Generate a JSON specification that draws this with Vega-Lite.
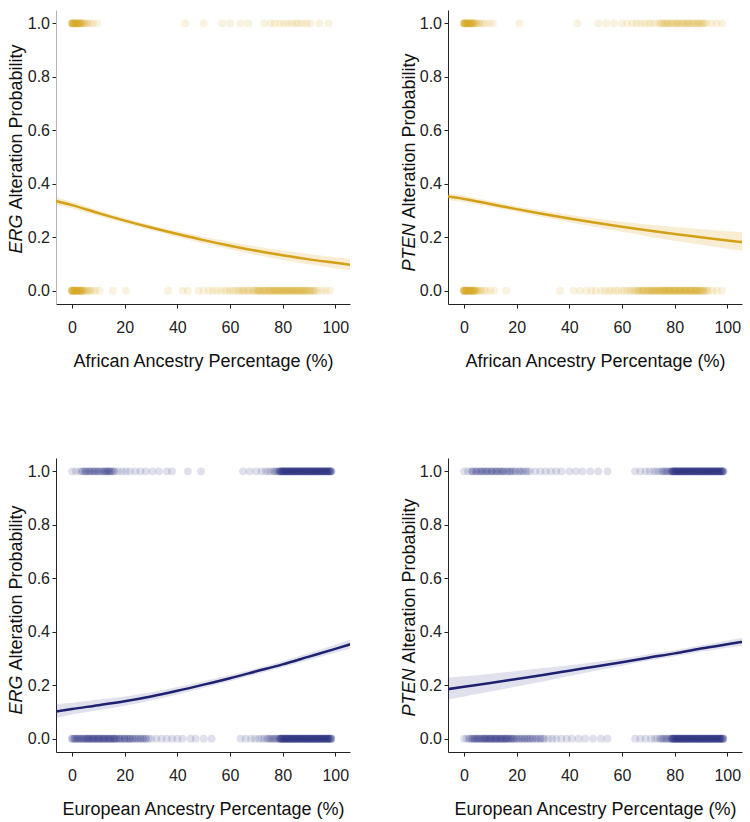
{
"$schema": "https://vega.github.io/schema/vega-lite/v6.json",
"padding": {"left": 6, "top": 10, "right": 5, "bottom": 5},
"columns": 2,
"spacing": {"row": 154, "column": 98},
"bounds": "flush",
"datasets": {
"a_erg": [
{"x":0,"y":1},{"x":0,"y":1},{"x":0,"y":1},{"x":0,"y":1},{"x":0,"y":1},{"x":0.25,"y":1},{"x":0.5,"y":1},{"x":0.5,"y":1},{"x":0.75,"y":1},{"x":1,"y":1},{"x":1,"y":1},{"x":1.25,"y":1},{"x":1.5,"y":1},{"x":1.5,"y":1},{"x":1.75,"y":1},{"x":2,"y":1},{"x":2,"y":1},{"x":2.25,"y":1},{"x":2.5,"y":1},{"x":2.5,"y":1},{"x":2.75,"y":1},{"x":3,"y":1},{"x":3,"y":1},{"x":3.25,"y":1},{"x":3.5,"y":1},{"x":3.75,"y":1},{"x":4,"y":1},{"x":4.5,"y":1},{"x":5,"y":1},{"x":5.5,"y":1},{"x":6,"y":1},{"x":7,"y":1},{"x":8,"y":1},{"x":9.5,"y":1},
{"x":43,"y":1},{"x":50,"y":1},{"x":57,"y":1},{"x":60,"y":1},{"x":64,"y":1},{"x":67,"y":1},{"x":73,"y":1},{"x":75.5,"y":1},{"x":77,"y":1},{"x":79,"y":1},{"x":80.5,"y":1},{"x":82,"y":1},{"x":83.5,"y":1},{"x":85,"y":1},{"x":86,"y":1},{"x":87.5,"y":1},{"x":89,"y":1},{"x":90.5,"y":1},{"x":94,"y":1},{"x":97.5,"y":1},
{"x":0,"y":0},{"x":0,"y":0},{"x":0,"y":0},{"x":0,"y":0},{"x":0,"y":0},{"x":0,"y":0},{"x":0.25,"y":0},{"x":0.5,"y":0},{"x":0.5,"y":0},{"x":0.75,"y":0},{"x":1,"y":0},{"x":1,"y":0},{"x":1.25,"y":0},{"x":1.5,"y":0},{"x":1.5,"y":0},{"x":1.75,"y":0},{"x":2,"y":0},{"x":2,"y":0},{"x":2.25,"y":0},{"x":2.5,"y":0},{"x":2.5,"y":0},{"x":2.75,"y":0},{"x":3,"y":0},{"x":3,"y":0},{"x":3.25,"y":0},{"x":3.5,"y":0},{"x":3.5,"y":0},{"x":3.75,"y":0},{"x":4,"y":0},{"x":4,"y":0},{"x":4.5,"y":0},{"x":5,"y":0},{"x":5.5,"y":0},{"x":6,"y":0},{"x":6.5,"y":0},{"x":7,"y":0},{"x":8,"y":0},{"x":9,"y":0},{"x":10.5,"y":0},{"x":15.5,"y":0},{"x":20.5,"y":0},
{"x":36.5,"y":0},{"x":42,"y":0},{"x":44,"y":0},{"x":48,"y":0},{"x":50,"y":0},{"x":52,"y":0},{"x":53.5,"y":0},{"x":55,"y":0},{"x":56.5,"y":0},{"x":58,"y":0},{"x":59,"y":0},{"x":60,"y":0},{"x":61,"y":0},{"x":62,"y":0},{"x":63,"y":0},{"x":63.5,"y":0},{"x":64.5,"y":0},{"x":65,"y":0},{"x":65.5,"y":0},{"x":66.5,"y":0},{"x":67,"y":0},{"x":67.5,"y":0},{"x":68.5,"y":0},{"x":69,"y":0},{"x":69.5,"y":0},{"x":70.5,"y":0},{"x":71,"y":0},{"x":71.5,"y":0},{"x":72.5,"y":0},{"x":73,"y":0},{"x":73.5,"y":0},{"x":74.5,"y":0},{"x":75,"y":0},{"x":75.5,"y":0},{"x":76,"y":0},{"x":76.5,"y":0},{"x":77,"y":0},{"x":77.5,"y":0},{"x":78,"y":0},{"x":78.5,"y":0},{"x":79,"y":0},{"x":79.5,"y":0},{"x":80,"y":0},{"x":80.5,"y":0},{"x":81,"y":0},{"x":81.5,"y":0},{"x":82,"y":0},{"x":82.5,"y":0},{"x":83,"y":0},{"x":83.5,"y":0},{"x":84,"y":0},{"x":84.5,"y":0},{"x":85,"y":0},{"x":85.5,"y":0},{"x":86,"y":0},{"x":86.5,"y":0},{"x":87,"y":0},{"x":87.5,"y":0},{"x":88,"y":0},{"x":88.5,"y":0},{"x":89,"y":0},{"x":90,"y":0},{"x":90.5,"y":0},{"x":91.5,"y":0},{"x":92.5,"y":0},{"x":93.5,"y":0},{"x":95,"y":0},{"x":96.5,"y":0},{"x":98,"y":0},
{"x":70,"y":0},{"x":71,"y":0},{"x":72,"y":0},{"x":73,"y":0},{"x":74,"y":0},{"x":75,"y":0},{"x":76,"y":0},{"x":77,"y":0},{"x":78,"y":0},{"x":79,"y":0},{"x":80,"y":0},{"x":81,"y":0},{"x":82,"y":0},{"x":83,"y":0},{"x":84,"y":0},{"x":85,"y":0},{"x":86,"y":0},{"x":87,"y":0},{"x":88,"y":0},{"x":89,"y":0},{"x":90,"y":0},{"x":91,"y":0},{"x":92,"y":0}
],
"a_pten": [
{"x":0,"y":1},{"x":0,"y":1},{"x":0,"y":1},{"x":0,"y":1},{"x":0,"y":1},{"x":0.25,"y":1},{"x":0.5,"y":1},{"x":0.5,"y":1},{"x":0.75,"y":1},{"x":1,"y":1},{"x":1,"y":1},{"x":1.25,"y":1},{"x":1.5,"y":1},{"x":1.5,"y":1},{"x":1.75,"y":1},{"x":2,"y":1},{"x":2,"y":1},{"x":2.25,"y":1},{"x":2.5,"y":1},{"x":2.5,"y":1},{"x":2.75,"y":1},{"x":3,"y":1},{"x":3,"y":1},{"x":3.25,"y":1},{"x":3.5,"y":1},{"x":3.75,"y":1},{"x":4,"y":1},{"x":4.5,"y":1},{"x":5,"y":1},{"x":5.5,"y":1},{"x":6,"y":1},{"x":7,"y":1},{"x":8,"y":1},{"x":9.5,"y":1},{"x":11,"y":1},{"x":21,"y":1},{"x":43,"y":1},
{"x":51,"y":1},{"x":54,"y":1},{"x":57,"y":1},{"x":60,"y":1},{"x":62,"y":1},{"x":64,"y":1},{"x":65.5,"y":1},{"x":67,"y":1},{"x":68.5,"y":1},{"x":70,"y":1},{"x":71,"y":1},{"x":72.5,"y":1},{"x":74,"y":1},{"x":75,"y":1},{"x":76,"y":1},{"x":76.5,"y":1},{"x":77.5,"y":1},{"x":78,"y":1},{"x":79,"y":1},{"x":80,"y":1},{"x":80.5,"y":1},{"x":81.5,"y":1},{"x":82,"y":1},{"x":83,"y":1},{"x":84,"y":1},{"x":84.5,"y":1},{"x":85.5,"y":1},{"x":86,"y":1},{"x":87,"y":1},{"x":88,"y":1},{"x":88.5,"y":1},{"x":89.5,"y":1},{"x":90,"y":1},{"x":91,"y":1},{"x":92,"y":1},{"x":94,"y":1},{"x":96,"y":1},{"x":98,"y":1},
{"x":75,"y":1},{"x":77,"y":1},{"x":79,"y":1},{"x":81,"y":1},{"x":83,"y":1},{"x":85,"y":1},{"x":87,"y":1},{"x":89,"y":1},{"x":91,"y":1},
{"x":0,"y":0},{"x":0,"y":0},{"x":0,"y":0},{"x":0,"y":0},{"x":0,"y":0},{"x":0,"y":0},{"x":0.25,"y":0},{"x":0.5,"y":0},{"x":0.5,"y":0},{"x":0.75,"y":0},{"x":1,"y":0},{"x":1,"y":0},{"x":1.25,"y":0},{"x":1.5,"y":0},{"x":1.5,"y":0},{"x":1.75,"y":0},{"x":2,"y":0},{"x":2,"y":0},{"x":2.25,"y":0},{"x":2.5,"y":0},{"x":2.5,"y":0},{"x":2.75,"y":0},{"x":3,"y":0},{"x":3,"y":0},{"x":3.25,"y":0},{"x":3.5,"y":0},{"x":3.5,"y":0},{"x":3.75,"y":0},{"x":4,"y":0},{"x":4,"y":0},{"x":4.25,"y":0},{"x":4.5,"y":0},{"x":5,"y":0},{"x":5.5,"y":0},{"x":6,"y":0},{"x":6.5,"y":0},{"x":7.5,"y":0},{"x":8.5,"y":0},{"x":10,"y":0},{"x":11.5,"y":0},{"x":16,"y":0},
{"x":36.5,"y":0},{"x":41.5,"y":0},{"x":44,"y":0},{"x":46.5,"y":0},{"x":48.5,"y":0},{"x":50,"y":0},{"x":52,"y":0},{"x":53.5,"y":0},{"x":55,"y":0},{"x":56,"y":0},{"x":57.5,"y":0},{"x":58.5,"y":0},{"x":60,"y":0},{"x":61,"y":0},{"x":62,"y":0},{"x":63,"y":0},{"x":63.5,"y":0},{"x":64.5,"y":0},{"x":65,"y":0},{"x":66,"y":0},{"x":66.5,"y":0},{"x":67.5,"y":0},{"x":68,"y":0},{"x":68.5,"y":0},{"x":69.5,"y":0},{"x":70,"y":0},{"x":70.5,"y":0},{"x":71,"y":0},{"x":71.5,"y":0},{"x":72,"y":0},{"x":72.5,"y":0},{"x":73,"y":0},{"x":73.5,"y":0},{"x":74,"y":0},{"x":74.5,"y":0},{"x":75,"y":0},{"x":75.5,"y":0},{"x":76,"y":0},{"x":76,"y":0},{"x":76.5,"y":0},{"x":77,"y":0},{"x":77.5,"y":0},{"x":78,"y":0},{"x":78,"y":0},{"x":78.5,"y":0},{"x":79,"y":0},{"x":79.5,"y":0},{"x":80,"y":0},{"x":80,"y":0},{"x":80.5,"y":0},{"x":81,"y":0},{"x":81.5,"y":0},{"x":82,"y":0},{"x":82,"y":0},{"x":82.5,"y":0},{"x":83,"y":0},{"x":83.5,"y":0},{"x":84,"y":0},{"x":84,"y":0},{"x":84.5,"y":0},{"x":85,"y":0},{"x":85.5,"y":0},{"x":86,"y":0},{"x":86,"y":0},{"x":86.5,"y":0},{"x":87,"y":0},{"x":87.5,"y":0},{"x":88,"y":0},{"x":88,"y":0},{"x":88.5,"y":0},{"x":89,"y":0},{"x":89.5,"y":0},{"x":90,"y":0},{"x":90.5,"y":0},{"x":91,"y":0},{"x":92,"y":0},{"x":93,"y":0},{"x":94.5,"y":0},{"x":96,"y":0},{"x":98,"y":0},
{"x":66,"y":0},{"x":67,"y":0},{"x":68,"y":0},{"x":69,"y":0},{"x":70,"y":0},{"x":71,"y":0},{"x":72,"y":0},{"x":73,"y":0},{"x":74,"y":0},{"x":75,"y":0},{"x":76,"y":0},{"x":77,"y":0},{"x":78,"y":0},{"x":79,"y":0},{"x":80,"y":0},{"x":81,"y":0},{"x":82,"y":0},{"x":83,"y":0},{"x":84,"y":0},{"x":85,"y":0},{"x":86,"y":0},{"x":87,"y":0},{"x":88,"y":0},{"x":89,"y":0},{"x":90,"y":0},{"x":91,"y":0},{"x":92,"y":0}
],
"e_erg": [
{"x":0,"y":1},{"x":1.5,"y":1},{"x":3,"y":1},{"x":4,"y":1},{"x":5,"y":1},{"x":5.5,"y":1},{"x":6.5,"y":1},{"x":7,"y":1},{"x":8,"y":1},{"x":8.5,"y":1},{"x":9.5,"y":1},{"x":10,"y":1},{"x":11,"y":1},{"x":12,"y":1},{"x":12.5,"y":1},{"x":13,"y":1},{"x":13.5,"y":1},{"x":14,"y":1},{"x":14.5,"y":1},{"x":15,"y":1},{"x":16,"y":1},{"x":17.5,"y":1},{"x":19,"y":1},{"x":20.5,"y":1},{"x":22,"y":1},{"x":24,"y":1},{"x":26,"y":1},{"x":28,"y":1},{"x":30.5,"y":1},{"x":33,"y":1},{"x":36,"y":1},{"x":38,"y":1},{"x":44,"y":1},{"x":49,"y":1},
{"x":4,"y":1},{"x":5,"y":1},{"x":6,"y":1},{"x":7,"y":1},{"x":8,"y":1},{"x":9,"y":1},{"x":10,"y":1},{"x":11,"y":1},{"x":12,"y":1},{"x":13,"y":1},{"x":14,"y":1},{"x":15,"y":1},{"x":16,"y":1},
{"x":65,"y":1},{"x":67.5,"y":1},{"x":70,"y":1},{"x":72,"y":1},{"x":73.5,"y":1},{"x":74.5,"y":1},{"x":75.5,"y":1},{"x":76.5,"y":1},{"x":77,"y":1},{"x":77.5,"y":1},{"x":78,"y":1},{"x":78.5,"y":1},
{"x":79,"y":1},{"x":79.5,"y":1},{"x":80,"y":1},{"x":80.5,"y":1},{"x":81,"y":1},{"x":81.5,"y":1},{"x":82,"y":1},{"x":82.5,"y":1},{"x":83,"y":1},{"x":83.5,"y":1},{"x":84,"y":1},{"x":84.5,"y":1},{"x":85,"y":1},{"x":85.5,"y":1},{"x":86,"y":1},{"x":86.5,"y":1},{"x":87,"y":1},{"x":87.5,"y":1},{"x":88,"y":1},{"x":88.5,"y":1},{"x":89,"y":1},{"x":89.5,"y":1},{"x":90,"y":1},{"x":90.5,"y":1},{"x":91,"y":1},{"x":91.5,"y":1},{"x":92,"y":1},{"x":92.5,"y":1},{"x":93,"y":1},{"x":93.5,"y":1},{"x":94,"y":1},{"x":94.5,"y":1},{"x":95,"y":1},{"x":95.5,"y":1},{"x":96,"y":1},{"x":96.5,"y":1},{"x":97,"y":1},{"x":97.5,"y":1},{"x":98,"y":1},{"x":98.5,"y":1},
{"x":79,"y":1},{"x":79.5,"y":1},{"x":80,"y":1},{"x":80.5,"y":1},{"x":81,"y":1},{"x":81.5,"y":1},{"x":82,"y":1},{"x":82.5,"y":1},{"x":83,"y":1},{"x":83.5,"y":1},{"x":84,"y":1},{"x":84.5,"y":1},{"x":85,"y":1},{"x":85.5,"y":1},{"x":86,"y":1},{"x":86.5,"y":1},{"x":87,"y":1},{"x":87.5,"y":1},{"x":88,"y":1},{"x":88.5,"y":1},{"x":89,"y":1},{"x":89.5,"y":1},{"x":90,"y":1},{"x":90.5,"y":1},{"x":91,"y":1},{"x":91.5,"y":1},{"x":92,"y":1},{"x":92.5,"y":1},{"x":93,"y":1},{"x":93.5,"y":1},{"x":94,"y":1},{"x":94.5,"y":1},{"x":95,"y":1},{"x":95.5,"y":1},{"x":96,"y":1},{"x":96.5,"y":1},{"x":97,"y":1},{"x":97.5,"y":1},{"x":98,"y":1},{"x":98.5,"y":1},
{"x":79,"y":1},{"x":79.5,"y":1},{"x":80,"y":1},{"x":80.5,"y":1},{"x":81,"y":1},{"x":81.5,"y":1},{"x":82,"y":1},{"x":82.5,"y":1},{"x":83,"y":1},{"x":83.5,"y":1},{"x":84,"y":1},{"x":84.5,"y":1},{"x":85,"y":1},{"x":85.5,"y":1},{"x":86,"y":1},{"x":86.5,"y":1},{"x":87,"y":1},{"x":87.5,"y":1},{"x":88,"y":1},{"x":88.5,"y":1},{"x":89,"y":1},{"x":89.5,"y":1},{"x":90,"y":1},{"x":90.5,"y":1},{"x":91,"y":1},{"x":91.5,"y":1},{"x":92,"y":1},{"x":92.5,"y":1},{"x":93,"y":1},{"x":93.5,"y":1},{"x":94,"y":1},{"x":94.5,"y":1},{"x":95,"y":1},{"x":95.5,"y":1},{"x":96,"y":1},{"x":96.5,"y":1},{"x":97,"y":1},{"x":97.5,"y":1},{"x":98,"y":1},{"x":98.5,"y":1},
{"x":0,"y":0},{"x":0.5,"y":0},{"x":1,"y":0},{"x":1.5,"y":0},{"x":2,"y":0},{"x":2.5,"y":0},{"x":3,"y":0},{"x":3.5,"y":0},{"x":4,"y":0},{"x":4.5,"y":0},{"x":5,"y":0},{"x":5.5,"y":0},{"x":6,"y":0},{"x":6.5,"y":0},{"x":7,"y":0},{"x":7.5,"y":0},{"x":8,"y":0},{"x":8.5,"y":0},{"x":9,"y":0},{"x":9.5,"y":0},{"x":10,"y":0},{"x":10.5,"y":0},{"x":11,"y":0},{"x":11.5,"y":0},{"x":12,"y":0},{"x":12.5,"y":0},{"x":13,"y":0},{"x":13.5,"y":0},{"x":14,"y":0},{"x":14.5,"y":0},{"x":15,"y":0},{"x":15.5,"y":0},{"x":16,"y":0},{"x":16.5,"y":0},{"x":17,"y":0},{"x":18,"y":0},{"x":19,"y":0},{"x":20,"y":0},{"x":21,"y":0},{"x":22,"y":0},{"x":23,"y":0},{"x":24,"y":0},{"x":25,"y":0},{"x":26,"y":0},{"x":27,"y":0},{"x":28,"y":0},{"x":29,"y":0},{"x":30,"y":0},{"x":32,"y":0},{"x":34,"y":0},{"x":36,"y":0},{"x":38,"y":0},{"x":40,"y":0},{"x":42,"y":0},{"x":45,"y":0},{"x":47,"y":0},{"x":50,"y":0},{"x":53,"y":0},
{"x":6,"y":0},{"x":8,"y":0},{"x":10,"y":0},{"x":12,"y":0},{"x":14,"y":0},{"x":16,"y":0},{"x":18,"y":0},{"x":20,"y":0},{"x":22,"y":0},
{"x":0,"y":0},{"x":1,"y":0},{"x":2,"y":0},{"x":3,"y":0},{"x":4,"y":0},{"x":5,"y":0},{"x":6,"y":0},{"x":7,"y":0},{"x":8,"y":0},{"x":9,"y":0},{"x":10,"y":0},{"x":11,"y":0},{"x":12,"y":0},{"x":13,"y":0},{"x":14,"y":0},{"x":15,"y":0},{"x":16,"y":0},{"x":17,"y":0},{"x":18,"y":0},{"x":19,"y":0},{"x":20,"y":0},{"x":21,"y":0},{"x":22,"y":0},{"x":23,"y":0},{"x":24,"y":0},{"x":25,"y":0},{"x":26,"y":0},{"x":27,"y":0},{"x":28,"y":0},
{"x":64,"y":0},{"x":66,"y":0},{"x":68,"y":0},{"x":69.5,"y":0},{"x":71,"y":0},{"x":72,"y":0},{"x":73,"y":0},{"x":74,"y":0},{"x":74.5,"y":0},{"x":75,"y":0},{"x":75.5,"y":0},{"x":76,"y":0},{"x":76.5,"y":0},{"x":77,"y":0},{"x":77.5,"y":0},{"x":78,"y":0},{"x":78.5,"y":0},
{"x":79,"y":0},{"x":79.5,"y":0},{"x":80,"y":0},{"x":80.5,"y":0},{"x":81,"y":0},{"x":81.5,"y":0},{"x":82,"y":0},{"x":82.5,"y":0},{"x":83,"y":0},{"x":83.5,"y":0},{"x":84,"y":0},{"x":84.5,"y":0},{"x":85,"y":0},{"x":85.5,"y":0},{"x":86,"y":0},{"x":86.5,"y":0},{"x":87,"y":0},{"x":87.5,"y":0},{"x":88,"y":0},{"x":88.5,"y":0},{"x":89,"y":0},{"x":89.5,"y":0},{"x":90,"y":0},{"x":90.5,"y":0},{"x":91,"y":0},{"x":91.5,"y":0},{"x":92,"y":0},{"x":92.5,"y":0},{"x":93,"y":0},{"x":93.5,"y":0},{"x":94,"y":0},{"x":94.5,"y":0},{"x":95,"y":0},{"x":95.5,"y":0},{"x":96,"y":0},{"x":96.5,"y":0},{"x":97,"y":0},{"x":97.5,"y":0},{"x":98,"y":0},{"x":98.5,"y":0},
{"x":79,"y":0},{"x":79.5,"y":0},{"x":80,"y":0},{"x":80.5,"y":0},{"x":81,"y":0},{"x":81.5,"y":0},{"x":82,"y":0},{"x":82.5,"y":0},{"x":83,"y":0},{"x":83.5,"y":0},{"x":84,"y":0},{"x":84.5,"y":0},{"x":85,"y":0},{"x":85.5,"y":0},{"x":86,"y":0},{"x":86.5,"y":0},{"x":87,"y":0},{"x":87.5,"y":0},{"x":88,"y":0},{"x":88.5,"y":0},{"x":89,"y":0},{"x":89.5,"y":0},{"x":90,"y":0},{"x":90.5,"y":0},{"x":91,"y":0},{"x":91.5,"y":0},{"x":92,"y":0},{"x":92.5,"y":0},{"x":93,"y":0},{"x":93.5,"y":0},{"x":94,"y":0},{"x":94.5,"y":0},{"x":95,"y":0},{"x":95.5,"y":0},{"x":96,"y":0},{"x":96.5,"y":0},{"x":97,"y":0},{"x":97.5,"y":0},{"x":98,"y":0},{"x":98.5,"y":0},
{"x":79,"y":0},{"x":79.5,"y":0},{"x":80,"y":0},{"x":80.5,"y":0},{"x":81,"y":0},{"x":81.5,"y":0},{"x":82,"y":0},{"x":82.5,"y":0},{"x":83,"y":0},{"x":83.5,"y":0},{"x":84,"y":0},{"x":84.5,"y":0},{"x":85,"y":0},{"x":85.5,"y":0},{"x":86,"y":0},{"x":86.5,"y":0},{"x":87,"y":0},{"x":87.5,"y":0},{"x":88,"y":0},{"x":88.5,"y":0},{"x":89,"y":0},{"x":89.5,"y":0},{"x":90,"y":0},{"x":90.5,"y":0},{"x":91,"y":0},{"x":91.5,"y":0},{"x":92,"y":0},{"x":92.5,"y":0},{"x":93,"y":0},{"x":93.5,"y":0},{"x":94,"y":0},{"x":94.5,"y":0},{"x":95,"y":0},{"x":95.5,"y":0},{"x":96,"y":0},{"x":96.5,"y":0},{"x":97,"y":0},{"x":97.5,"y":0},{"x":98,"y":0},{"x":98.5,"y":0}
],
"e_pten": [
{"x":0,"y":1},{"x":1.5,"y":1},{"x":3,"y":1},{"x":3.5,"y":1},{"x":4.5,"y":1},{"x":5,"y":1},{"x":6,"y":1},{"x":6.5,"y":1},{"x":7,"y":1},{"x":8,"y":1},{"x":8.5,"y":1},{"x":9,"y":1},{"x":10,"y":1},{"x":10.5,"y":1},{"x":11,"y":1},{"x":12,"y":1},{"x":12.5,"y":1},{"x":13,"y":1},{"x":14,"y":1},{"x":14.5,"y":1},{"x":15,"y":1},{"x":16,"y":1},{"x":17,"y":1},{"x":17.5,"y":1},{"x":18.5,"y":1},{"x":19.5,"y":1},{"x":21,"y":1},{"x":22,"y":1},{"x":23.5,"y":1},{"x":25,"y":1},{"x":27,"y":1},{"x":29,"y":1},{"x":31,"y":1},{"x":33,"y":1},{"x":35,"y":1},{"x":37,"y":1},{"x":40,"y":1},{"x":42.5,"y":1},{"x":45,"y":1},{"x":48,"y":1},{"x":51,"y":1},{"x":54.5,"y":1},
{"x":3,"y":1},{"x":4.5,"y":1},{"x":6,"y":1},{"x":7.5,"y":1},{"x":9,"y":1},{"x":10.5,"y":1},{"x":12,"y":1},{"x":13.5,"y":1},{"x":15,"y":1},{"x":16.5,"y":1},{"x":18,"y":1},{"x":19.5,"y":1},{"x":21,"y":1},{"x":22.5,"y":1},{"x":24,"y":1},
{"x":65,"y":1},{"x":67,"y":1},{"x":69,"y":1},{"x":70.5,"y":1},{"x":72,"y":1},{"x":73,"y":1},{"x":74,"y":1},{"x":75,"y":1},{"x":75.5,"y":1},{"x":76,"y":1},{"x":76.5,"y":1},{"x":77,"y":1},{"x":77.5,"y":1},{"x":78,"y":1},{"x":78.5,"y":1},
{"x":79,"y":1},{"x":79.5,"y":1},{"x":80,"y":1},{"x":80.5,"y":1},{"x":81,"y":1},{"x":81.5,"y":1},{"x":82,"y":1},{"x":82.5,"y":1},{"x":83,"y":1},{"x":83.5,"y":1},{"x":84,"y":1},{"x":84.5,"y":1},{"x":85,"y":1},{"x":85.5,"y":1},{"x":86,"y":1},{"x":86.5,"y":1},{"x":87,"y":1},{"x":87.5,"y":1},{"x":88,"y":1},{"x":88.5,"y":1},{"x":89,"y":1},{"x":89.5,"y":1},{"x":90,"y":1},{"x":90.5,"y":1},{"x":91,"y":1},{"x":91.5,"y":1},{"x":92,"y":1},{"x":92.5,"y":1},{"x":93,"y":1},{"x":93.5,"y":1},{"x":94,"y":1},{"x":94.5,"y":1},{"x":95,"y":1},{"x":95.5,"y":1},{"x":96,"y":1},{"x":96.5,"y":1},{"x":97,"y":1},{"x":97.5,"y":1},{"x":98,"y":1},{"x":98.5,"y":1},
{"x":79,"y":1},{"x":79.5,"y":1},{"x":80,"y":1},{"x":80.5,"y":1},{"x":81,"y":1},{"x":81.5,"y":1},{"x":82,"y":1},{"x":82.5,"y":1},{"x":83,"y":1},{"x":83.5,"y":1},{"x":84,"y":1},{"x":84.5,"y":1},{"x":85,"y":1},{"x":85.5,"y":1},{"x":86,"y":1},{"x":86.5,"y":1},{"x":87,"y":1},{"x":87.5,"y":1},{"x":88,"y":1},{"x":88.5,"y":1},{"x":89,"y":1},{"x":89.5,"y":1},{"x":90,"y":1},{"x":90.5,"y":1},{"x":91,"y":1},{"x":91.5,"y":1},{"x":92,"y":1},{"x":92.5,"y":1},{"x":93,"y":1},{"x":93.5,"y":1},{"x":94,"y":1},{"x":94.5,"y":1},{"x":95,"y":1},{"x":95.5,"y":1},{"x":96,"y":1},{"x":96.5,"y":1},{"x":97,"y":1},{"x":97.5,"y":1},{"x":98,"y":1},{"x":98.5,"y":1},
{"x":79,"y":1},{"x":79.5,"y":1},{"x":80,"y":1},{"x":80.5,"y":1},{"x":81,"y":1},{"x":81.5,"y":1},{"x":82,"y":1},{"x":82.5,"y":1},{"x":83,"y":1},{"x":83.5,"y":1},{"x":84,"y":1},{"x":84.5,"y":1},{"x":85,"y":1},{"x":85.5,"y":1},{"x":86,"y":1},{"x":86.5,"y":1},{"x":87,"y":1},{"x":87.5,"y":1},{"x":88,"y":1},{"x":88.5,"y":1},{"x":89,"y":1},{"x":89.5,"y":1},{"x":90,"y":1},{"x":90.5,"y":1},{"x":91,"y":1},{"x":91.5,"y":1},{"x":92,"y":1},{"x":92.5,"y":1},{"x":93,"y":1},{"x":93.5,"y":1},{"x":94,"y":1},{"x":94.5,"y":1},{"x":95,"y":1},{"x":95.5,"y":1},{"x":96,"y":1},{"x":96.5,"y":1},{"x":97,"y":1},{"x":97.5,"y":1},{"x":98,"y":1},{"x":98.5,"y":1},
{"x":0,"y":0},{"x":1,"y":0},{"x":2,"y":0},{"x":3,"y":0},{"x":3.5,"y":0},{"x":4,"y":0},{"x":4.5,"y":0},{"x":5,"y":0},{"x":5.5,"y":0},{"x":6,"y":0},{"x":6.5,"y":0},{"x":7,"y":0},{"x":7.5,"y":0},{"x":8,"y":0},{"x":8,"y":0},{"x":8.5,"y":0},{"x":9,"y":0},{"x":9.5,"y":0},{"x":10,"y":0},{"x":10,"y":0},{"x":10.5,"y":0},{"x":11,"y":0},{"x":11.5,"y":0},{"x":12,"y":0},{"x":12,"y":0},{"x":12.5,"y":0},{"x":13,"y":0},{"x":13.5,"y":0},{"x":14,"y":0},{"x":14,"y":0},{"x":14.5,"y":0},{"x":15,"y":0},{"x":15.5,"y":0},{"x":16,"y":0},{"x":16,"y":0},{"x":16.5,"y":0},{"x":17,"y":0},{"x":17.5,"y":0},{"x":18,"y":0},{"x":18.5,"y":0},{"x":19,"y":0},{"x":20,"y":0},{"x":21,"y":0},{"x":22,"y":0},{"x":23,"y":0},{"x":24,"y":0},{"x":25,"y":0},{"x":26,"y":0},{"x":27.5,"y":0},{"x":29,"y":0},{"x":30.5,"y":0},{"x":32,"y":0},{"x":33.5,"y":0},{"x":35,"y":0},{"x":37,"y":0},{"x":39,"y":0},{"x":41,"y":0},{"x":43.5,"y":0},{"x":46,"y":0},{"x":49,"y":0},{"x":52,"y":0},{"x":54.5,"y":0},
{"x":2,"y":0},{"x":3,"y":0},{"x":4,"y":0},{"x":5,"y":0},{"x":6,"y":0},{"x":7,"y":0},{"x":8,"y":0},{"x":9,"y":0},{"x":10,"y":0},{"x":11,"y":0},{"x":12,"y":0},{"x":13,"y":0},{"x":14,"y":0},{"x":15,"y":0},{"x":16,"y":0},{"x":17,"y":0},{"x":18,"y":0},{"x":19,"y":0},{"x":20,"y":0},{"x":21,"y":0},{"x":22,"y":0},{"x":23,"y":0},{"x":24,"y":0},{"x":25,"y":0},{"x":26,"y":0},{"x":27,"y":0},{"x":28,"y":0},{"x":29,"y":0},{"x":30,"y":0},
{"x":65,"y":0},{"x":67,"y":0},{"x":69,"y":0},{"x":71,"y":0},{"x":72.5,"y":0},{"x":73.5,"y":0},{"x":74.5,"y":0},{"x":75,"y":0},{"x":75.5,"y":0},{"x":76,"y":0},{"x":76.5,"y":0},{"x":77,"y":0},{"x":77.5,"y":0},{"x":78,"y":0},{"x":78.5,"y":0},
{"x":79,"y":0},{"x":79.5,"y":0},{"x":80,"y":0},{"x":80.5,"y":0},{"x":81,"y":0},{"x":81.5,"y":0},{"x":82,"y":0},{"x":82.5,"y":0},{"x":83,"y":0},{"x":83.5,"y":0},{"x":84,"y":0},{"x":84.5,"y":0},{"x":85,"y":0},{"x":85.5,"y":0},{"x":86,"y":0},{"x":86.5,"y":0},{"x":87,"y":0},{"x":87.5,"y":0},{"x":88,"y":0},{"x":88.5,"y":0},{"x":89,"y":0},{"x":89.5,"y":0},{"x":90,"y":0},{"x":90.5,"y":0},{"x":91,"y":0},{"x":91.5,"y":0},{"x":92,"y":0},{"x":92.5,"y":0},{"x":93,"y":0},{"x":93.5,"y":0},{"x":94,"y":0},{"x":94.5,"y":0},{"x":95,"y":0},{"x":95.5,"y":0},{"x":96,"y":0},{"x":96.5,"y":0},{"x":97,"y":0},{"x":97.5,"y":0},{"x":98,"y":0},{"x":98.5,"y":0},
{"x":79,"y":0},{"x":79.5,"y":0},{"x":80,"y":0},{"x":80.5,"y":0},{"x":81,"y":0},{"x":81.5,"y":0},{"x":82,"y":0},{"x":82.5,"y":0},{"x":83,"y":0},{"x":83.5,"y":0},{"x":84,"y":0},{"x":84.5,"y":0},{"x":85,"y":0},{"x":85.5,"y":0},{"x":86,"y":0},{"x":86.5,"y":0},{"x":87,"y":0},{"x":87.5,"y":0},{"x":88,"y":0},{"x":88.5,"y":0},{"x":89,"y":0},{"x":89.5,"y":0},{"x":90,"y":0},{"x":90.5,"y":0},{"x":91,"y":0},{"x":91.5,"y":0},{"x":92,"y":0},{"x":92.5,"y":0},{"x":93,"y":0},{"x":93.5,"y":0},{"x":94,"y":0},{"x":94.5,"y":0},{"x":95,"y":0},{"x":95.5,"y":0},{"x":96,"y":0},{"x":96.5,"y":0},{"x":97,"y":0},{"x":97.5,"y":0},{"x":98,"y":0},{"x":98.5,"y":0},
{"x":79,"y":0},{"x":79.5,"y":0},{"x":80,"y":0},{"x":80.5,"y":0},{"x":81,"y":0},{"x":81.5,"y":0},{"x":82,"y":0},{"x":82.5,"y":0},{"x":83,"y":0},{"x":83.5,"y":0},{"x":84,"y":0},{"x":84.5,"y":0},{"x":85,"y":0},{"x":85.5,"y":0},{"x":86,"y":0},{"x":86.5,"y":0},{"x":87,"y":0},{"x":87.5,"y":0},{"x":88,"y":0},{"x":88.5,"y":0},{"x":89,"y":0},{"x":89.5,"y":0},{"x":90,"y":0},{"x":90.5,"y":0},{"x":91,"y":0},{"x":91.5,"y":0},{"x":92,"y":0},{"x":92.5,"y":0},{"x":93,"y":0},{"x":93.5,"y":0},{"x":94,"y":0},{"x":94.5,"y":0},{"x":95,"y":0},{"x":95.5,"y":0},{"x":96,"y":0},{"x":96.5,"y":0},{"x":97,"y":0},{"x":97.5,"y":0},{"x":98,"y":0},{"x":98.5,"y":0}
],
"f_a_erg": [
{"x":-7,"fit":0.337,"lo":0.322,"hi":0.352},{"x":0,"fit":0.32,"lo":0.307,"hi":0.333},{"x":10,"fit":0.29,"lo":0.279,"hi":0.301},{"x":20,"fit":0.262,"lo":0.252,"hi":0.272},{"x":30,"fit":0.236,"lo":0.226,"hi":0.246},{"x":40,"fit":0.212,"lo":0.201,"hi":0.223},{"x":50,"fit":0.189,"lo":0.176,"hi":0.202},{"x":60,"fit":0.168,"lo":0.154,"hi":0.183},{"x":70,"fit":0.149,"lo":0.133,"hi":0.166},{"x":80,"fit":0.132,"lo":0.115,"hi":0.15},{"x":90,"fit":0.117,"lo":0.099,"hi":0.137},{"x":100,"fit":0.104,"lo":0.084,"hi":0.125},{"x":107,"fit":0.095,"lo":0.075,"hi":0.118}
],
"f_a_pten": [
{"x":-7,"fit":0.353,"lo":0.339,"hi":0.367},{"x":0,"fit":0.343,"lo":0.331,"hi":0.355},{"x":10,"fit":0.324,"lo":0.313,"hi":0.335},{"x":20,"fit":0.305,"lo":0.294,"hi":0.316},{"x":30,"fit":0.287,"lo":0.275,"hi":0.299},{"x":40,"fit":0.27,"lo":0.256,"hi":0.284},{"x":50,"fit":0.254,"lo":0.238,"hi":0.27},{"x":60,"fit":0.239,"lo":0.22,"hi":0.258},{"x":70,"fit":0.225,"lo":0.203,"hi":0.247},{"x":80,"fit":0.212,"lo":0.187,"hi":0.238},{"x":90,"fit":0.2,"lo":0.172,"hi":0.23},{"x":100,"fit":0.188,"lo":0.157,"hi":0.222},{"x":107,"fit":0.18,"lo":0.147,"hi":0.218}
],
"f_e_erg": [
{"x":-7,"fit":0.1,"lo":0.075,"hi":0.128},{"x":0,"fit":0.111,"lo":0.09,"hi":0.134},{"x":10,"fit":0.125,"lo":0.106,"hi":0.146},{"x":20,"fit":0.14,"lo":0.123,"hi":0.158},{"x":30,"fit":0.158,"lo":0.143,"hi":0.174},{"x":40,"fit":0.179,"lo":0.165,"hi":0.193},{"x":50,"fit":0.202,"lo":0.19,"hi":0.215},{"x":60,"fit":0.226,"lo":0.215,"hi":0.238},{"x":70,"fit":0.252,"lo":0.241,"hi":0.263},{"x":80,"fit":0.278,"lo":0.267,"hi":0.29},{"x":90,"fit":0.307,"lo":0.294,"hi":0.32},{"x":100,"fit":0.336,"lo":0.321,"hi":0.351},{"x":107,"fit":0.357,"lo":0.34,"hi":0.375}
],
"f_e_pten": [
{"x":-7,"fit":0.184,"lo":0.145,"hi":0.228},{"x":0,"fit":0.194,"lo":0.158,"hi":0.233},{"x":10,"fit":0.208,"lo":0.176,"hi":0.243},{"x":20,"fit":0.223,"lo":0.195,"hi":0.253},{"x":30,"fit":0.238,"lo":0.214,"hi":0.264},{"x":40,"fit":0.254,"lo":0.234,"hi":0.275},{"x":50,"fit":0.27,"lo":0.254,"hi":0.287},{"x":60,"fit":0.286,"lo":0.273,"hi":0.3},{"x":70,"fit":0.303,"lo":0.291,"hi":0.316},{"x":80,"fit":0.319,"lo":0.308,"hi":0.331},{"x":90,"fit":0.337,"lo":0.325,"hi":0.349},{"x":100,"fit":0.353,"lo":0.34,"hi":0.367},{"x":107,"fit":0.364,"lo":0.349,"hi":0.38}
]
},
"concat": [
{"width": 294, "height": 294,
 "layer": [
  {"data": {"name": "f_a_erg"}, "mark": {"type": "area", "clip": true, "color": "#DAA520", "opacity": 0.2, "interpolate": "monotone"},
   "encoding": {
    "x": {"field": "x", "type": "quantitative", "title": "African Ancestry Percentage (%)", "scale": {"domain": [-6.1, 105.6], "nice": false, "zero": false}, "axis": {"values": [0,20,40,60,80,100], "format": "d", "labelPadding": 11.5, "titleY": 62, "titleBaseline": "alphabetic"}},
    "y": {"field": "lo", "type": "quantitative", "scale": {"domain": [-0.05, 1.05], "nice": false, "zero": false}, "axis": null},
    "y2": {"field": "hi"}}},
  {"data": {"name": "a_erg"}, "mark": {"type": "circle", "size": 62, "opacity": 0.15, "fill": "#DAA520", "strokeWidth": 0},
   "encoding": {
    "x": {"field": "x", "type": "quantitative", "title": "African Ancestry Percentage (%)"},
    "y": {"field": "y", "type": "quantitative", "axis": {"title": "Alteration Probability", "orient": "left", "values": [0,0.2,0.4,0.6,0.8,1], "format": ".1f", "labelPadding": 2.5, "titleX": -35, "titleY": 199, "titleAlign": "left", "titleAngle": 270, "titleBaseline": "alphabetic", "domainColor": "#B5B5B5"}}}},
  {"data": {"name": "f_a_erg"}, "mark": {"type": "line", "clip": true, "color": "#D4A017", "strokeWidth": 2.5, "interpolate": "monotone"},
   "encoding": {
    "x": {"field": "x", "type": "quantitative", "title": "African Ancestry Percentage (%)"},
    "y": {"field": "fit", "type": "quantitative", "axis": {"title": "ERG", "orient": "left", "titleFontStyle": "italic", "labels": false, "ticks": false, "domain": false, "titleX": -35, "titleY": 243, "titleAlign": "left", "titleAngle": 270, "titleBaseline": "alphabetic"}}}}
 ],
 "resolve": {"axis": {"y": "independent"}}
},
{"width": 294, "height": 294,
 "layer": [
  {"data": {"name": "f_a_pten"}, "mark": {"type": "area", "clip": true, "color": "#DAA520", "opacity": 0.2, "interpolate": "monotone"},
   "encoding": {
    "x": {"field": "x", "type": "quantitative", "title": "African Ancestry Percentage (%)", "scale": {"domain": [-6.1, 105.6], "nice": false, "zero": false}, "axis": {"values": [0,20,40,60,80,100], "format": "d", "labelPadding": 11.5, "titleY": 62, "titleBaseline": "alphabetic"}},
    "y": {"field": "lo", "type": "quantitative", "scale": {"domain": [-0.05, 1.05], "nice": false, "zero": false}, "axis": null},
    "y2": {"field": "hi"}}},
  {"data": {"name": "a_pten"}, "mark": {"type": "circle", "size": 62, "opacity": 0.15, "fill": "#DAA520", "strokeWidth": 0},
   "encoding": {
    "x": {"field": "x", "type": "quantitative", "title": "African Ancestry Percentage (%)"},
    "y": {"field": "y", "type": "quantitative", "axis": {"title": "Alteration Probability", "orient": "left", "values": [0,0.2,0.4,0.6,0.8,1], "format": ".1f", "labelPadding": 2.5, "titleX": -34, "titleY": 208, "titleAlign": "left", "titleAngle": 270, "titleBaseline": "alphabetic"}}}},
  {"data": {"name": "f_a_pten"}, "mark": {"type": "line", "clip": true, "color": "#D4A017", "strokeWidth": 2.5, "interpolate": "monotone"},
   "encoding": {
    "x": {"field": "x", "type": "quantitative", "title": "African Ancestry Percentage (%)"},
    "y": {"field": "fit", "type": "quantitative", "axis": {"title": "PTEN", "orient": "left", "titleFontStyle": "italic", "labels": false, "ticks": false, "domain": false, "titleX": -34, "titleY": 261, "titleAlign": "left", "titleAngle": 270, "titleBaseline": "alphabetic"}}}}
 ],
 "resolve": {"axis": {"y": "independent"}}
},
{"width": 294, "height": 294,
 "layer": [
  {"data": {"name": "f_e_erg"}, "mark": {"type": "area", "clip": true, "color": "#2B2E7E", "opacity": 0.14, "interpolate": "monotone"},
   "encoding": {
    "x": {"field": "x", "type": "quantitative", "title": "European Ancestry Percentage (%)", "scale": {"domain": [-6.1, 105.6], "nice": false, "zero": false}, "axis": {"values": [0,20,40,60,80,100], "format": "d", "labelPadding": 11.5, "titleY": 62, "titleBaseline": "alphabetic"}},
    "y": {"field": "lo", "type": "quantitative", "scale": {"domain": [-0.05, 1.05], "nice": false, "zero": false}, "axis": null},
    "y2": {"field": "hi"}}},
  {"data": {"name": "e_erg"}, "mark": {"type": "circle", "size": 62, "opacity": 0.15, "fill": "#2B2E7E", "strokeWidth": 0},
   "encoding": {
    "x": {"field": "x", "type": "quantitative", "title": "European Ancestry Percentage (%)"},
    "y": {"field": "y", "type": "quantitative", "axis": {"title": "Alteration Probability", "orient": "left", "values": [0,0.2,0.4,0.6,0.8,1], "format": ".1f", "labelPadding": 2.5, "titleX": -35, "titleY": 212, "titleAlign": "left", "titleAngle": 270, "titleBaseline": "alphabetic"}}}},
  {"data": {"name": "f_e_erg"}, "mark": {"type": "line", "clip": true, "color": "#1E2170", "strokeWidth": 2.5, "interpolate": "monotone"},
   "encoding": {
    "x": {"field": "x", "type": "quantitative", "title": "European Ancestry Percentage (%)"},
    "y": {"field": "fit", "type": "quantitative", "axis": {"title": "ERG", "orient": "left", "titleFontStyle": "italic", "labels": false, "ticks": false, "domain": false, "titleX": -35, "titleY": 256, "titleAlign": "left", "titleAngle": 270, "titleBaseline": "alphabetic"}}}}
 ],
 "resolve": {"axis": {"y": "independent"}}
},
{"width": 294, "height": 294,
 "layer": [
  {"data": {"name": "f_e_pten"}, "mark": {"type": "area", "clip": true, "color": "#2B2E7E", "opacity": 0.14, "interpolate": "monotone"},
   "encoding": {
    "x": {"field": "x", "type": "quantitative", "title": "European Ancestry Percentage (%)", "scale": {"domain": [-6.1, 105.6], "nice": false, "zero": false}, "axis": {"values": [0,20,40,60,80,100], "format": "d", "labelPadding": 11.5, "titleY": 62, "titleBaseline": "alphabetic"}},
    "y": {"field": "lo", "type": "quantitative", "scale": {"domain": [-0.05, 1.05], "nice": false, "zero": false}, "axis": null},
    "y2": {"field": "hi"}}},
  {"data": {"name": "e_pten"}, "mark": {"type": "circle", "size": 62, "opacity": 0.15, "fill": "#2B2E7E", "strokeWidth": 0},
   "encoding": {
    "x": {"field": "x", "type": "quantitative", "title": "European Ancestry Percentage (%)"},
    "y": {"field": "y", "type": "quantitative", "axis": {"title": "Alteration Probability", "orient": "left", "values": [0,0.2,0.4,0.6,0.8,1], "format": ".1f", "labelPadding": 2.5, "titleX": -34, "titleY": 205, "titleAlign": "left", "titleAngle": 270, "titleBaseline": "alphabetic"}}}},
  {"data": {"name": "f_e_pten"}, "mark": {"type": "line", "clip": true, "color": "#1E2170", "strokeWidth": 2.5, "interpolate": "monotone"},
   "encoding": {
    "x": {"field": "x", "type": "quantitative", "title": "European Ancestry Percentage (%)"},
    "y": {"field": "fit", "type": "quantitative", "axis": {"title": "PTEN", "orient": "left", "titleFontStyle": "italic", "labels": false, "ticks": false, "domain": false, "titleX": -34, "titleY": 258, "titleAlign": "left", "titleAngle": 270, "titleBaseline": "alphabetic"}}}}
 ],
 "resolve": {"axis": {"y": "independent"}}
}
],
"config": {
 "view": {"stroke": null},
 "font": "Liberation Sans",
 "axis": {"grid": false, "domainColor": "#222222", "domainWidth": 1, "tickColor": "#222222", "tickSize": 4, "labelColor": "#222222", "labelFontSize": 16, "titleColor": "#111111", "titleFontSize": 18, "titleFontWeight": "normal"}
}
}
